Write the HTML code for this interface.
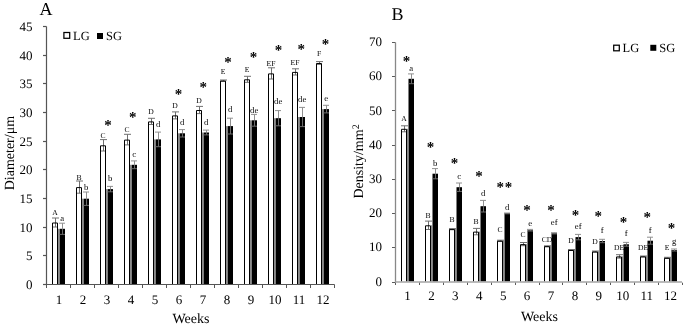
<!DOCTYPE html><html><head><meta charset="utf-8"><style>html,body{margin:0;padding:0;background:#fff;}svg{display:block;will-change:transform;}text{font-family:"Liberation Serif",serif;fill:#000;text-rendering:geometricPrecision;}</style></head><body>
<svg width="685" height="327" viewBox="0 0 685 327">
<text x="39.6" y="15.2" font-size="18" text-anchor="start" font-weight="normal" >A</text>
<path d="M43 284.50H46.5" stroke="#555555" stroke-width="1.2"/>
<text x="32.6" y="288.9" font-size="13" text-anchor="end" font-weight="normal" >0</text>
<path d="M43 255.50H46.5" stroke="#555555" stroke-width="1.2"/>
<text x="32.6" y="260.23333333333335" font-size="13" text-anchor="end" font-weight="normal" >5</text>
<path d="M43 227.50H46.5" stroke="#555555" stroke-width="1.2"/>
<text x="32.6" y="231.56666666666666" font-size="13" text-anchor="end" font-weight="normal" >10</text>
<path d="M43 198.50H46.5" stroke="#555555" stroke-width="1.2"/>
<text x="32.6" y="202.9" font-size="13" text-anchor="end" font-weight="normal" >15</text>
<path d="M43 169.50H46.5" stroke="#555555" stroke-width="1.2"/>
<text x="32.6" y="174.23333333333332" font-size="13" text-anchor="end" font-weight="normal" >20</text>
<path d="M43 141.50H46.5" stroke="#555555" stroke-width="1.2"/>
<text x="32.6" y="145.56666666666666" font-size="13" text-anchor="end" font-weight="normal" >25</text>
<path d="M43 112.50H46.5" stroke="#555555" stroke-width="1.2"/>
<text x="32.6" y="116.9" font-size="13" text-anchor="end" font-weight="normal" >30</text>
<path d="M43 83.50H46.5" stroke="#555555" stroke-width="1.2"/>
<text x="32.6" y="88.23333333333332" font-size="13" text-anchor="end" font-weight="normal" >35</text>
<path d="M43 55.50H46.5" stroke="#555555" stroke-width="1.2"/>
<text x="32.6" y="59.566666666666656" font-size="13" text-anchor="end" font-weight="normal" >40</text>
<path d="M43 26.50H46.5" stroke="#555555" stroke-width="1.2"/>
<text x="32.6" y="30.9" font-size="13" text-anchor="end" font-weight="normal" >45</text>
<rect x="63.9" y="32.5" width="5.8" height="5.8" fill="#fff" stroke="#000" stroke-width="1.25"/>
<text x="73" y="39.5" font-size="12.5" text-anchor="start" font-weight="normal" >LG</text>
<rect x="97" y="33" width="6" height="6" fill="#000"/>
<text x="106" y="39.5" font-size="12.5" text-anchor="start" font-weight="normal" >SG</text>
<text x="0" y="0" font-size="14" text-anchor="start" font-weight="normal" transform="translate(13.8,190.3) rotate(-90)">Diameter/μm</text>
<rect x="52" y="222.5" width="6" height="61.50" fill="#fff"/>
<rect x="58" y="228.80" width="1" height="55.20" fill="#8c8c8c"/>
<rect x="59.50" y="228.80" width="5.50" height="55.20" fill="#000"/>
<path d="M52 218.0H59M55.5 218.0V227.00M52 227.00H58" stroke="#707070" stroke-width="1" fill="none"/>
<path d="M52.5 284.0V223.0H57.5V284.0" stroke="#000" stroke-width="1" fill="none"/>
<path d="M59 223.2H65M62.5 223.2V228.8" stroke="#909090" stroke-width="1" fill="none"/>
<path d="M62.5 228.8V234.40M59.5 234.40H65" stroke="#6a6a6a" stroke-width="1" fill="none"/>
<text x="55" y="214.7" font-size="7.6" text-anchor="middle" font-weight="normal" >A</text>
<text x="62.2" y="220.5" font-size="8.7" text-anchor="middle" font-weight="normal" >a</text>
<rect x="76" y="187.1" width="6" height="96.90" fill="#fff"/>
<rect x="82" y="198.70" width="1" height="85.30" fill="#8c8c8c"/>
<rect x="83.50" y="198.70" width="5.50" height="85.30" fill="#000"/>
<path d="M76 181.0H83M79.5 181.0V193.20M76 193.20H82" stroke="#707070" stroke-width="1" fill="none"/>
<path d="M76.5 284.0V187.6H81.5V284.0" stroke="#000" stroke-width="1" fill="none"/>
<path d="M83 192.0H89M86.5 192.0V198.7" stroke="#909090" stroke-width="1" fill="none"/>
<path d="M86.5 198.7V205.40M83.5 205.40H89" stroke="#6a6a6a" stroke-width="1" fill="none"/>
<text x="79" y="179.6" font-size="7.6" text-anchor="middle" font-weight="normal" >B</text>
<text x="86.2" y="190.4" font-size="8.7" text-anchor="middle" font-weight="normal" >b</text>
<rect x="100" y="145.3" width="6" height="138.70" fill="#fff"/>
<rect x="106" y="189.10" width="1" height="94.90" fill="#8c8c8c"/>
<rect x="107.50" y="189.10" width="5.50" height="94.90" fill="#000"/>
<path d="M100 139.6H107M103.5 139.6V151.00M100 151.00H106" stroke="#707070" stroke-width="1" fill="none"/>
<path d="M100.5 284.0V145.8H105.5V284.0" stroke="#000" stroke-width="1" fill="none"/>
<path d="M107 186.4H113M110.5 186.4V189.1" stroke="#909090" stroke-width="1" fill="none"/>
<path d="M110.5 189.1V191.80M107.5 191.80H113" stroke="#6a6a6a" stroke-width="1" fill="none"/>
<text x="103" y="138.0" font-size="7.6" text-anchor="middle" font-weight="normal" >C</text>
<text x="110.2" y="180.6" font-size="8.7" text-anchor="middle" font-weight="normal" >b</text>
<text x="108.00" y="130.28" font-size="15" text-anchor="middle" font-weight="bold">*</text>
<rect x="124" y="139.6" width="6" height="144.40" fill="#fff"/>
<rect x="130" y="164.80" width="1" height="119.20" fill="#8c8c8c"/>
<rect x="131.50" y="164.80" width="5.50" height="119.20" fill="#000"/>
<path d="M124 134.3H131M127.5 134.3V144.90M124 144.90H130" stroke="#707070" stroke-width="1" fill="none"/>
<path d="M124.5 284.0V140.1H129.5V284.0" stroke="#000" stroke-width="1" fill="none"/>
<path d="M131 160.9H137M134.5 160.9V164.8" stroke="#909090" stroke-width="1" fill="none"/>
<path d="M134.5 164.8V168.70M131.5 168.70H137" stroke="#6a6a6a" stroke-width="1" fill="none"/>
<text x="127" y="132.2" font-size="7.6" text-anchor="middle" font-weight="normal" >C</text>
<text x="134.2" y="157.0" font-size="8.7" text-anchor="middle" font-weight="normal" >c</text>
<text x="132.70" y="122.47" font-size="15" text-anchor="middle" font-weight="bold">*</text>
<rect x="148" y="121.4" width="6" height="162.60" fill="#fff"/>
<rect x="154" y="139.40" width="1" height="144.60" fill="#8c8c8c"/>
<rect x="155.50" y="139.40" width="5.50" height="144.60" fill="#000"/>
<path d="M148 118.3H155M151.5 118.3V124.50M148 124.50H154" stroke="#707070" stroke-width="1" fill="none"/>
<path d="M148.5 284.0V121.9H153.5V284.0" stroke="#000" stroke-width="1" fill="none"/>
<path d="M155 132.1H161M158.5 132.1V139.4" stroke="#909090" stroke-width="1" fill="none"/>
<path d="M158.5 139.4V146.70M155.5 146.70H161" stroke="#6a6a6a" stroke-width="1" fill="none"/>
<text x="151" y="114.0" font-size="7.6" text-anchor="middle" font-weight="normal" >D</text>
<text x="158.2" y="126.8" font-size="8.7" text-anchor="middle" font-weight="normal" >d</text>
<rect x="172" y="115.4" width="6" height="168.60" fill="#fff"/>
<rect x="178" y="133.30" width="1" height="150.70" fill="#8c8c8c"/>
<rect x="179.50" y="133.30" width="5.50" height="150.70" fill="#000"/>
<path d="M172 111.9H179M175.5 111.9V118.90M172 118.90H178" stroke="#707070" stroke-width="1" fill="none"/>
<path d="M172.5 284.0V115.9H177.5V284.0" stroke="#000" stroke-width="1" fill="none"/>
<path d="M179 129.6H185M182.5 129.6V133.3" stroke="#909090" stroke-width="1" fill="none"/>
<path d="M182.5 133.3V137.00M179.5 137.00H185" stroke="#6a6a6a" stroke-width="1" fill="none"/>
<text x="175" y="108.3" font-size="7.6" text-anchor="middle" font-weight="normal" >D</text>
<text x="182.2" y="125.4" font-size="8.7" text-anchor="middle" font-weight="normal" >d</text>
<text x="178.40" y="98.97" font-size="15" text-anchor="middle" font-weight="bold">*</text>
<rect x="196" y="110.0" width="6" height="174.00" fill="#fff"/>
<rect x="202" y="132.50" width="1" height="151.50" fill="#8c8c8c"/>
<rect x="203.50" y="132.50" width="5.50" height="151.50" fill="#000"/>
<path d="M196 106.4H203M199.5 106.4V113.60M196 113.60H202" stroke="#707070" stroke-width="1" fill="none"/>
<path d="M196.5 284.0V110.5H201.5V284.0" stroke="#000" stroke-width="1" fill="none"/>
<path d="M203 130.1H209M206.5 130.1V132.5" stroke="#909090" stroke-width="1" fill="none"/>
<path d="M206.5 132.5V134.90M203.5 134.90H209" stroke="#6a6a6a" stroke-width="1" fill="none"/>
<text x="199" y="103.0" font-size="7.6" text-anchor="middle" font-weight="normal" >D</text>
<text x="206.2" y="124.6" font-size="8.7" text-anchor="middle" font-weight="normal" >d</text>
<text x="203.20" y="92.07" font-size="15" text-anchor="middle" font-weight="bold">*</text>
<rect x="220" y="80.6" width="6" height="203.40" fill="#fff"/>
<rect x="226" y="126.10" width="1" height="157.90" fill="#8c8c8c"/>
<rect x="227.50" y="126.10" width="5.50" height="157.90" fill="#000"/>
<path d="M220 80.0H227M223.5 80.0V81.20M220 81.20H226" stroke="#707070" stroke-width="1" fill="none"/>
<path d="M220.5 284.0V81.1H225.5V284.0" stroke="#000" stroke-width="1" fill="none"/>
<path d="M227 118.2H233M230.5 118.2V126.1" stroke="#909090" stroke-width="1" fill="none"/>
<path d="M230.5 126.1V134.00M227.5 134.00H233" stroke="#6a6a6a" stroke-width="1" fill="none"/>
<text x="223" y="73.9" font-size="7.6" text-anchor="middle" font-weight="normal" >E</text>
<text x="230.2" y="112.2" font-size="8.7" text-anchor="middle" font-weight="normal" >d</text>
<text x="228.00" y="66.58" font-size="15" text-anchor="middle" font-weight="bold">*</text>
<rect x="244" y="79.3" width="6" height="204.70" fill="#fff"/>
<rect x="250" y="120.30" width="1" height="163.70" fill="#8c8c8c"/>
<rect x="251.50" y="120.30" width="5.50" height="163.70" fill="#000"/>
<path d="M244 76.3H251M247.5 76.3V82.30M244 82.30H250" stroke="#707070" stroke-width="1" fill="none"/>
<path d="M244.5 284.0V79.8H249.5V284.0" stroke="#000" stroke-width="1" fill="none"/>
<path d="M251 114.4H257M254.5 114.4V120.3" stroke="#909090" stroke-width="1" fill="none"/>
<path d="M254.5 120.3V126.20M251.5 126.20H257" stroke="#6a6a6a" stroke-width="1" fill="none"/>
<text x="247" y="72.3" font-size="7.6" text-anchor="middle" font-weight="normal" >E</text>
<text x="254.2" y="112.7" font-size="8.7" text-anchor="middle" font-weight="normal" >de</text>
<text x="253.60" y="61.98" font-size="15" text-anchor="middle" font-weight="bold">*</text>
<rect x="268" y="73.4" width="6" height="210.60" fill="#fff"/>
<rect x="274" y="118.20" width="1" height="165.80" fill="#8c8c8c"/>
<rect x="275.50" y="118.20" width="5.50" height="165.80" fill="#000"/>
<path d="M268 67.8H275M271.5 67.8V79.00M268 79.00H274" stroke="#707070" stroke-width="1" fill="none"/>
<path d="M268.5 284.0V73.9H273.5V284.0" stroke="#000" stroke-width="1" fill="none"/>
<path d="M275 110.6H281M278.5 110.6V118.2" stroke="#909090" stroke-width="1" fill="none"/>
<path d="M278.5 118.2V125.80M275.5 125.80H281" stroke="#6a6a6a" stroke-width="1" fill="none"/>
<text x="271" y="66.1" font-size="7.6" text-anchor="middle" font-weight="normal" >EF</text>
<text x="278.2" y="104.4" font-size="8.7" text-anchor="middle" font-weight="normal" >de</text>
<text x="278.40" y="55.48" font-size="15" text-anchor="middle" font-weight="bold">*</text>
<rect x="292" y="71.9" width="6" height="212.10" fill="#fff"/>
<rect x="298" y="117.00" width="1" height="167.00" fill="#8c8c8c"/>
<rect x="299.50" y="117.00" width="5.50" height="167.00" fill="#000"/>
<path d="M292 68.8H299M295.5 68.8V75.00M292 75.00H298" stroke="#707070" stroke-width="1" fill="none"/>
<path d="M292.5 284.0V72.4H297.5V284.0" stroke="#000" stroke-width="1" fill="none"/>
<path d="M299 107.4H305M302.5 107.4V117.0" stroke="#909090" stroke-width="1" fill="none"/>
<path d="M302.5 117.0V126.60M299.5 126.60H305" stroke="#6a6a6a" stroke-width="1" fill="none"/>
<text x="295" y="64.5" font-size="7.6" text-anchor="middle" font-weight="normal" >EF</text>
<text x="302.2" y="101.8" font-size="8.7" text-anchor="middle" font-weight="normal" >de</text>
<text x="301.20" y="54.38" font-size="15" text-anchor="middle" font-weight="bold">*</text>
<rect x="316" y="63.0" width="6" height="221.00" fill="#fff"/>
<rect x="322" y="109.10" width="1" height="174.90" fill="#8c8c8c"/>
<rect x="323.50" y="109.10" width="5.50" height="174.90" fill="#000"/>
<path d="M316 61.6H323M319.5 61.6V64.40M316 64.40H322" stroke="#707070" stroke-width="1" fill="none"/>
<path d="M316.5 284.0V63.5H321.5V284.0" stroke="#000" stroke-width="1" fill="none"/>
<path d="M323 105.3H329M326.5 105.3V109.1" stroke="#909090" stroke-width="1" fill="none"/>
<path d="M326.5 109.1V112.90M323.5 112.90H329" stroke="#6a6a6a" stroke-width="1" fill="none"/>
<text x="319" y="55.9" font-size="7.6" text-anchor="middle" font-weight="normal" >F</text>
<text x="326.2" y="101.1" font-size="8.7" text-anchor="middle" font-weight="normal" >e</text>
<text x="325.50" y="49.18" font-size="15" text-anchor="middle" font-weight="bold">*</text>
<path d="M46.5 26.5V284.5" stroke="#555555" stroke-width="1.2"/>
<path d="M46.0 284.5H334.5" stroke="#555555" stroke-width="1.2"/>
<path d="M46.5 284.5V288" stroke="#555555" stroke-width="1"/>
<path d="M70.5 284.5V288" stroke="#555555" stroke-width="1"/>
<path d="M94.5 284.5V288" stroke="#555555" stroke-width="1"/>
<path d="M118.5 284.5V288" stroke="#555555" stroke-width="1"/>
<path d="M142.5 284.5V288" stroke="#555555" stroke-width="1"/>
<path d="M166.5 284.5V288" stroke="#555555" stroke-width="1"/>
<path d="M190.5 284.5V288" stroke="#555555" stroke-width="1"/>
<path d="M214.5 284.5V288" stroke="#555555" stroke-width="1"/>
<path d="M238.5 284.5V288" stroke="#555555" stroke-width="1"/>
<path d="M262.5 284.5V288" stroke="#555555" stroke-width="1"/>
<path d="M286.5 284.5V288" stroke="#555555" stroke-width="1"/>
<path d="M310.5 284.5V288" stroke="#555555" stroke-width="1"/>
<path d="M334.5 284.5V288" stroke="#555555" stroke-width="1"/>
<text x="58.9" y="303.8" font-size="13" text-anchor="middle" font-weight="normal" >1</text>
<text x="82.9" y="303.8" font-size="13" text-anchor="middle" font-weight="normal" >2</text>
<text x="106.9" y="303.8" font-size="13" text-anchor="middle" font-weight="normal" >3</text>
<text x="130.9" y="303.8" font-size="13" text-anchor="middle" font-weight="normal" >4</text>
<text x="154.9" y="303.8" font-size="13" text-anchor="middle" font-weight="normal" >5</text>
<text x="178.9" y="303.8" font-size="13" text-anchor="middle" font-weight="normal" >6</text>
<text x="202.9" y="303.8" font-size="13" text-anchor="middle" font-weight="normal" >7</text>
<text x="226.9" y="303.8" font-size="13" text-anchor="middle" font-weight="normal" >8</text>
<text x="250.9" y="303.8" font-size="13" text-anchor="middle" font-weight="normal" >9</text>
<text x="274.9" y="303.8" font-size="13" text-anchor="middle" font-weight="normal" >10</text>
<text x="298.9" y="303.8" font-size="13" text-anchor="middle" font-weight="normal" >11</text>
<text x="322.9" y="303.8" font-size="13" text-anchor="middle" font-weight="normal" >12</text>
<text x="191" y="322.7" font-size="14" text-anchor="middle" font-weight="normal" >Weeks</text>
<text x="391.6" y="19.6" font-size="18" text-anchor="start" font-weight="normal" >B</text>
<path d="M392 282.50H395.5" stroke="#5a5a5a" stroke-width="1"/>
<text x="382.1" y="285.6" font-size="13" text-anchor="end" font-weight="normal" >0</text>
<path d="M392 247.50H395.5" stroke="#5a5a5a" stroke-width="1"/>
<text x="382.1" y="251.38571428571427" font-size="13" text-anchor="end" font-weight="normal" >10</text>
<path d="M392 213.50H395.5" stroke="#5a5a5a" stroke-width="1"/>
<text x="382.1" y="217.17142857142855" font-size="13" text-anchor="end" font-weight="normal" >20</text>
<path d="M392 179.50H395.5" stroke="#5a5a5a" stroke-width="1"/>
<text x="382.1" y="182.95714285714286" font-size="13" text-anchor="end" font-weight="normal" >30</text>
<path d="M392 145.50H395.5" stroke="#5a5a5a" stroke-width="1"/>
<text x="382.1" y="148.74285714285713" font-size="13" text-anchor="end" font-weight="normal" >40</text>
<path d="M392 110.50H395.5" stroke="#5a5a5a" stroke-width="1"/>
<text x="382.1" y="114.52857142857141" font-size="13" text-anchor="end" font-weight="normal" >50</text>
<path d="M392 76.50H395.5" stroke="#5a5a5a" stroke-width="1"/>
<text x="382.1" y="80.31428571428572" font-size="13" text-anchor="end" font-weight="normal" >60</text>
<path d="M392 42.50H395.5" stroke="#5a5a5a" stroke-width="1"/>
<text x="382.1" y="46.1" font-size="13" text-anchor="end" font-weight="normal" >70</text>
<rect x="613.7" y="45.2" width="5.6" height="5.6" fill="#fff" stroke="#000" stroke-width="1.25"/>
<text x="622.6" y="51.5" font-size="12.5" text-anchor="start" font-weight="normal" >LG</text>
<rect x="650.3" y="44.8" width="6" height="6" fill="#000"/>
<text x="659.3" y="51.5" font-size="12.5" text-anchor="start" font-weight="normal" >SG</text>
<text font-size="14" transform="translate(362.8,198.6) rotate(-90)">Density/mm<tspan font-size="10" dy="-3.6">2</tspan></text>
<rect x="401" y="128.8" width="6" height="152.70" fill="#fff"/>
<rect x="407" y="128.80" width="1" height="152.70" fill="#8c8c8c"/>
<rect x="408.50" y="78.80" width="5.50" height="202.70" fill="#000"/>
<path d="M401 125.8H408M404.5 125.8V131.80M401 131.80H407" stroke="#707070" stroke-width="1" fill="none"/>
<path d="M401.5 281.5V129.3H406.5V281.5" stroke="#000" stroke-width="1" fill="none"/>
<path d="M408 73.9H414M411.5 73.9V78.8" stroke="#909090" stroke-width="1" fill="none"/>
<path d="M411.5 78.8V83.70M408.5 83.70H414" stroke="#6a6a6a" stroke-width="1" fill="none"/>
<text x="404" y="120.8" font-size="7.6" text-anchor="middle" font-weight="normal" >A</text>
<text x="411.2" y="70.7" font-size="8.7" text-anchor="middle" font-weight="normal" >a</text>
<text x="406.50" y="65.67" font-size="15" text-anchor="middle" font-weight="bold">*</text>
<rect x="425" y="225.3" width="6" height="56.20" fill="#fff"/>
<rect x="431" y="225.30" width="1" height="56.20" fill="#8c8c8c"/>
<rect x="432.50" y="173.70" width="5.50" height="107.80" fill="#000"/>
<path d="M425 221.1H432M428.5 221.1V229.50M425 229.50H431" stroke="#707070" stroke-width="1" fill="none"/>
<path d="M425.5 281.5V225.8H430.5V281.5" stroke="#000" stroke-width="1" fill="none"/>
<path d="M432 168.6H438M435.5 168.6V173.7" stroke="#909090" stroke-width="1" fill="none"/>
<path d="M435.5 173.7V178.80M432.5 178.80H438" stroke="#6a6a6a" stroke-width="1" fill="none"/>
<text x="428" y="217.7" font-size="7.6" text-anchor="middle" font-weight="normal" >B</text>
<text x="435.2" y="166.0" font-size="8.7" text-anchor="middle" font-weight="normal" >b</text>
<text x="430.40" y="152.47" font-size="15" text-anchor="middle" font-weight="bold">*</text>
<rect x="449" y="229.1" width="6" height="52.40" fill="#fff"/>
<rect x="455" y="229.10" width="1" height="52.40" fill="#8c8c8c"/>
<rect x="456.50" y="187.20" width="5.50" height="94.30" fill="#000"/>
<path d="M449 228.6H456M452.5 228.6V229.60M449 229.60H455" stroke="#707070" stroke-width="1" fill="none"/>
<path d="M449.5 281.5V229.6H454.5V281.5" stroke="#000" stroke-width="1" fill="none"/>
<path d="M456 183.0H462M459.5 183.0V187.2" stroke="#909090" stroke-width="1" fill="none"/>
<path d="M459.5 187.2V191.40M456.5 191.40H462" stroke="#6a6a6a" stroke-width="1" fill="none"/>
<text x="452" y="222.3" font-size="7.6" text-anchor="middle" font-weight="normal" >B</text>
<text x="459.2" y="179.1" font-size="8.7" text-anchor="middle" font-weight="normal" >c</text>
<text x="454.40" y="167.88" font-size="15" text-anchor="middle" font-weight="bold">*</text>
<rect x="473" y="231.6" width="6" height="49.90" fill="#fff"/>
<rect x="479" y="231.60" width="1" height="49.90" fill="#8c8c8c"/>
<rect x="480.50" y="206.20" width="5.50" height="75.30" fill="#000"/>
<path d="M473 228.4H480M476.5 228.4V234.80M473 234.80H479" stroke="#707070" stroke-width="1" fill="none"/>
<path d="M473.5 281.5V232.1H478.5V281.5" stroke="#000" stroke-width="1" fill="none"/>
<path d="M480 200.4H486M483.5 200.4V206.2" stroke="#909090" stroke-width="1" fill="none"/>
<path d="M483.5 206.2V212.00M480.5 212.00H486" stroke="#6a6a6a" stroke-width="1" fill="none"/>
<text x="476" y="223.6" font-size="7.6" text-anchor="middle" font-weight="normal" >B</text>
<text x="483.2" y="195.5" font-size="8.7" text-anchor="middle" font-weight="normal" >d</text>
<text x="479.10" y="180.97" font-size="15" text-anchor="middle" font-weight="bold">*</text>
<rect x="497" y="240.7" width="6" height="40.80" fill="#fff"/>
<rect x="503" y="240.70" width="1" height="40.80" fill="#8c8c8c"/>
<rect x="504.50" y="213.40" width="5.50" height="68.10" fill="#000"/>
<path d="M497 240.2H504M500.5 240.2V241.20M497 241.20H503" stroke="#707070" stroke-width="1" fill="none"/>
<path d="M497.5 281.5V241.2H502.5V281.5" stroke="#000" stroke-width="1" fill="none"/>
<path d="M504 213.0H510M507.5 213.0V213.4" stroke="#909090" stroke-width="1" fill="none"/>
<path d="M507.5 213.4V213.80M504.5 213.80H510" stroke="#6a6a6a" stroke-width="1" fill="none"/>
<text x="500" y="232.4" font-size="7.6" text-anchor="middle" font-weight="normal" >C</text>
<text x="507.2" y="209.8" font-size="8.7" text-anchor="middle" font-weight="normal" >d</text>
<rect x="520" y="244.1" width="6" height="37.40" fill="#fff"/>
<rect x="526" y="244.10" width="1" height="37.40" fill="#8c8c8c"/>
<rect x="527.50" y="230.20" width="5.50" height="51.30" fill="#000"/>
<path d="M520 242.5H527M523.5 242.5V245.70M520 245.70H526" stroke="#707070" stroke-width="1" fill="none"/>
<path d="M520.5 281.5V244.6H525.5V281.5" stroke="#000" stroke-width="1" fill="none"/>
<path d="M527 229.4H533M530.5 229.4V230.2" stroke="#909090" stroke-width="1" fill="none"/>
<path d="M530.5 230.2V231.00M527.5 231.00H533" stroke="#6a6a6a" stroke-width="1" fill="none"/>
<text x="523" y="237.0" font-size="7.6" text-anchor="middle" font-weight="normal" >C</text>
<text x="530.2" y="226.3" font-size="8.7" text-anchor="middle" font-weight="normal" >e</text>
<text x="527.10" y="215.38" font-size="15" text-anchor="middle" font-weight="bold">*</text>
<rect x="544" y="246.2" width="6" height="35.30" fill="#fff"/>
<rect x="550" y="246.20" width="1" height="35.30" fill="#8c8c8c"/>
<rect x="551.50" y="233.30" width="5.50" height="48.20" fill="#000"/>
<path d="M544 245.8H551M547.5 245.8V246.60M544 246.60H550" stroke="#707070" stroke-width="1" fill="none"/>
<path d="M544.5 281.5V246.7H549.5V281.5" stroke="#000" stroke-width="1" fill="none"/>
<path d="M551 232.7H557M554.5 232.7V233.3" stroke="#909090" stroke-width="1" fill="none"/>
<path d="M554.5 233.3V233.90M551.5 233.90H557" stroke="#6a6a6a" stroke-width="1" fill="none"/>
<text x="547" y="242.2" font-size="7.6" text-anchor="middle" font-weight="normal" >CD</text>
<text x="554.2" y="225.4" font-size="8.7" text-anchor="middle" font-weight="normal" >ef</text>
<text x="551.00" y="215.38" font-size="15" text-anchor="middle" font-weight="bold">*</text>
<rect x="568" y="250.0" width="6" height="31.50" fill="#fff"/>
<rect x="574" y="250.00" width="1" height="31.50" fill="#8c8c8c"/>
<rect x="575.50" y="237.10" width="5.50" height="44.40" fill="#000"/>
<path d="M568 249.5H575M571.5 249.5V250.50M568 250.50H574" stroke="#707070" stroke-width="1" fill="none"/>
<path d="M568.5 281.5V250.5H573.5V281.5" stroke="#000" stroke-width="1" fill="none"/>
<path d="M575 234.4H581M578.5 234.4V237.1" stroke="#909090" stroke-width="1" fill="none"/>
<path d="M578.5 237.1V239.80M575.5 239.80H581" stroke="#6a6a6a" stroke-width="1" fill="none"/>
<text x="571" y="243.2" font-size="7.6" text-anchor="middle" font-weight="normal" >D</text>
<text x="578.2" y="228.8" font-size="8.7" text-anchor="middle" font-weight="normal" >ef</text>
<text x="575.60" y="220.28" font-size="15" text-anchor="middle" font-weight="bold">*</text>
<rect x="592" y="251.5" width="6" height="30.00" fill="#fff"/>
<rect x="598" y="251.50" width="1" height="30.00" fill="#8c8c8c"/>
<rect x="599.50" y="241.00" width="5.50" height="40.50" fill="#000"/>
<path d="M592 251.0H599M595.5 251.0V252.00M592 252.00H598" stroke="#707070" stroke-width="1" fill="none"/>
<path d="M592.5 281.5V252.0H597.5V281.5" stroke="#000" stroke-width="1" fill="none"/>
<path d="M599 239.3H605M602.5 239.3V241.0" stroke="#909090" stroke-width="1" fill="none"/>
<path d="M602.5 241.0V242.70M599.5 242.70H605" stroke="#6a6a6a" stroke-width="1" fill="none"/>
<text x="595" y="244.4" font-size="7.6" text-anchor="middle" font-weight="normal" >D</text>
<text x="602.2" y="232.8" font-size="8.7" text-anchor="middle" font-weight="normal" >f</text>
<text x="598.20" y="220.67" font-size="15" text-anchor="middle" font-weight="bold">*</text>
<rect x="616" y="256.4" width="6" height="25.10" fill="#fff"/>
<rect x="622" y="256.40" width="1" height="25.10" fill="#8c8c8c"/>
<rect x="623.50" y="244.30" width="5.50" height="37.20" fill="#000"/>
<path d="M616 254.7H623M619.5 254.7V258.10M616 258.10H622" stroke="#707070" stroke-width="1" fill="none"/>
<path d="M616.5 281.5V256.9H621.5V281.5" stroke="#000" stroke-width="1" fill="none"/>
<path d="M623 242.4H629M626.5 242.4V244.3" stroke="#909090" stroke-width="1" fill="none"/>
<path d="M626.5 244.3V246.20M623.5 246.20H629" stroke="#6a6a6a" stroke-width="1" fill="none"/>
<text x="619" y="250.1" font-size="7.6" text-anchor="middle" font-weight="normal" >DE</text>
<text x="626.2" y="236.3" font-size="8.7" text-anchor="middle" font-weight="normal" >f</text>
<text x="623.60" y="227.17" font-size="15" text-anchor="middle" font-weight="bold">*</text>
<rect x="640" y="256.4" width="6" height="25.10" fill="#fff"/>
<rect x="646" y="256.40" width="1" height="25.10" fill="#8c8c8c"/>
<rect x="647.50" y="240.70" width="5.50" height="40.80" fill="#000"/>
<path d="M640 256.0H647M643.5 256.0V256.80M640 256.80H646" stroke="#707070" stroke-width="1" fill="none"/>
<path d="M640.5 281.5V256.9H645.5V281.5" stroke="#000" stroke-width="1" fill="none"/>
<path d="M647 237.2H653M650.5 237.2V240.7" stroke="#909090" stroke-width="1" fill="none"/>
<path d="M650.5 240.7V244.20M647.5 244.20H653" stroke="#6a6a6a" stroke-width="1" fill="none"/>
<text x="643" y="250.2" font-size="7.6" text-anchor="middle" font-weight="normal" >DE</text>
<text x="650.2" y="232.9" font-size="8.7" text-anchor="middle" font-weight="normal" >f</text>
<text x="647.30" y="222.28" font-size="15" text-anchor="middle" font-weight="bold">*</text>
<rect x="664" y="257.8" width="6" height="23.70" fill="#fff"/>
<rect x="670" y="257.80" width="1" height="23.70" fill="#8c8c8c"/>
<rect x="671.50" y="250.00" width="5.50" height="31.50" fill="#000"/>
<path d="M664 257.3H671M667.5 257.3V258.30M664 258.30H670" stroke="#707070" stroke-width="1" fill="none"/>
<path d="M664.5 281.5V258.3H669.5V281.5" stroke="#000" stroke-width="1" fill="none"/>
<path d="M671 249.0H677M674.5 249.0V250.0" stroke="#909090" stroke-width="1" fill="none"/>
<path d="M674.5 250.0V251.00M671.5 251.00H677" stroke="#6a6a6a" stroke-width="1" fill="none"/>
<text x="667" y="250.3" font-size="7.6" text-anchor="middle" font-weight="normal" >E</text>
<text x="674.2" y="244.3" font-size="8.7" text-anchor="middle" font-weight="normal" >g</text>
<text x="671.60" y="233.47" font-size="15" text-anchor="middle" font-weight="bold">*</text>
<text x="500.20" y="192.07" font-size="15" text-anchor="middle" font-weight="bold">*</text>
<text x="508.50" y="192.07" font-size="15" text-anchor="middle" font-weight="bold">*</text>
<path d="M395.5 42.5V282.0" stroke="#888888" stroke-width="1.3"/>
<path d="M395.5 282.0H682" stroke="#a4a4a4" stroke-width="1.5"/>
<path d="M395.50 282.7V285" stroke="#5a5a5a" stroke-width="1"/>
<path d="M419.50 282.7V285" stroke="#5a5a5a" stroke-width="1"/>
<path d="M443.50 282.7V285" stroke="#5a5a5a" stroke-width="1"/>
<path d="M467.50 282.7V285" stroke="#5a5a5a" stroke-width="1"/>
<path d="M491.50 282.7V285" stroke="#5a5a5a" stroke-width="1"/>
<path d="M515.50 282.7V285" stroke="#5a5a5a" stroke-width="1"/>
<path d="M539.50 282.7V285" stroke="#5a5a5a" stroke-width="1"/>
<path d="M562.50 282.7V285" stroke="#5a5a5a" stroke-width="1"/>
<path d="M586.50 282.7V285" stroke="#5a5a5a" stroke-width="1"/>
<path d="M610.50 282.7V285" stroke="#5a5a5a" stroke-width="1"/>
<path d="M634.50 282.7V285" stroke="#5a5a5a" stroke-width="1"/>
<path d="M658.50 282.7V285" stroke="#5a5a5a" stroke-width="1"/>
<path d="M682.50 282.7V285" stroke="#5a5a5a" stroke-width="1"/>
<text x="407.46" y="300.1" font-size="13" text-anchor="middle" font-weight="normal" >1</text>
<text x="431.38" y="300.1" font-size="13" text-anchor="middle" font-weight="normal" >2</text>
<text x="455.3" y="300.1" font-size="13" text-anchor="middle" font-weight="normal" >3</text>
<text x="479.22" y="300.1" font-size="13" text-anchor="middle" font-weight="normal" >4</text>
<text x="503.14" y="300.1" font-size="13" text-anchor="middle" font-weight="normal" >5</text>
<text x="527.06" y="300.1" font-size="13" text-anchor="middle" font-weight="normal" >6</text>
<text x="550.98" y="300.1" font-size="13" text-anchor="middle" font-weight="normal" >7</text>
<text x="574.9" y="300.1" font-size="13" text-anchor="middle" font-weight="normal" >8</text>
<text x="598.82" y="300.1" font-size="13" text-anchor="middle" font-weight="normal" >9</text>
<text x="622.74" y="300.1" font-size="13" text-anchor="middle" font-weight="normal" >10</text>
<text x="646.6600000000001" y="300.1" font-size="13" text-anchor="middle" font-weight="normal" >11</text>
<text x="670.58" y="300.1" font-size="13" text-anchor="middle" font-weight="normal" >12</text>
<text x="539.5" y="320.5" font-size="14" text-anchor="middle" font-weight="normal" >Weeks</text>
</svg></body></html>
